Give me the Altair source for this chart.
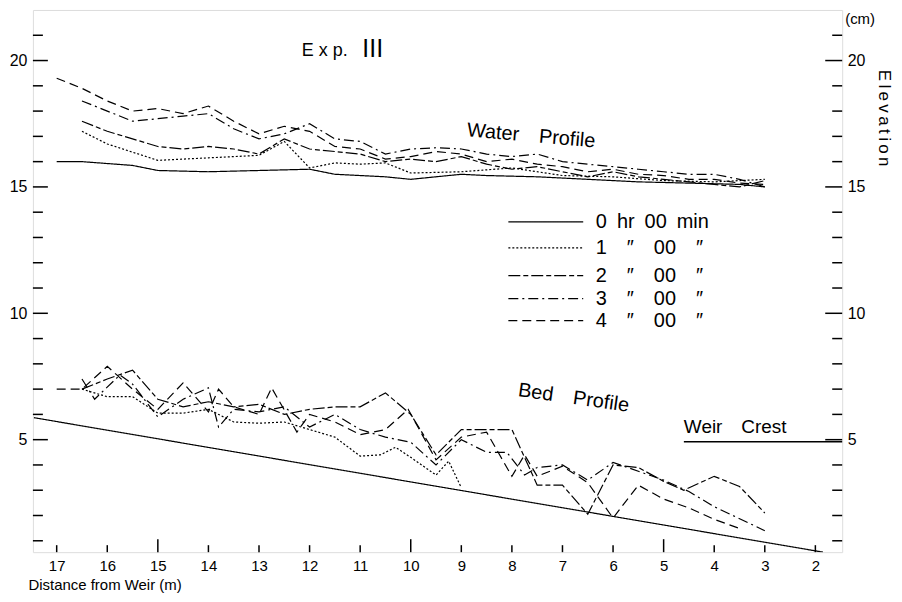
import altair as alt
import pandas as pd

# ---------------- data (x = distance from weir in m, y = elevation in cm) ----------------
SP = "\u2003"  # wide space (SVG collapses ordinary repeated spaces)
EN = "\u2002"
series_names = ["0 hr", "1 hr", "2 hr", "3 hr", "4 hr"]
legend_labels = ["0" + EN + "hr" + EN + "00" + EN + "min",
                 "1" + SP + "\u2033" + SP + "00" + SP + "\u2033",
                 "2" + SP + "\u2033" + SP + "00" + SP + "\u2033",
                 "3" + SP + "\u2033" + SP + "00" + SP + "\u2033",
                 "4" + SP + "\u2033" + SP + "00" + SP + "\u2033"]

water0_x = [17, 16.5, 15.5, 15, 14, 13, 12, 11.5, 10.5, 10, 9, 8.5, 7.5, 6.5, 5.5, 4.5, 3.5, 3]
water0_y = [16.0, 16.0, 15.85, 15.65, 15.6, 15.65, 15.7, 15.5, 15.4, 15.3, 15.5, 15.45, 15.4, 15.3, 15.2, 15.15, 15.1, 15.0]

water1_x = [16.5, 16, 15, 14, 13, 12.5, 12, 11.5, 11, 10.5, 10, 9, 8, 7, 6, 5, 4, 3]
water1_y = [17.2, 16.7, 16.05, 16.15, 16.25, 16.8, 15.75, 15.95, 15.9, 15.95, 15.55, 15.6, 15.75, 15.45, 15.4, 15.25, 15.2, 15.3]

water2_x = [16.5, 16, 15.5, 15, 14.5, 14, 13.5, 13, 12.5, 12, 11.5, 11, 10.5, 10, 9.5, 9, 8.5, 8, 7.5, 7, 6.5, 6, 5.5, 5, 4.5, 4, 3.5, 3]
water2_y = [17.6, 17.2, 16.9, 16.6, 16.5, 16.6, 16.5, 16.3, 16.9, 16.5, 16.4, 16.3, 16.0, 16.1, 16.0, 16.2, 15.9, 15.7, 15.8, 15.6, 15.4, 15.6, 15.4, 15.3, 15.2, 15.1, 15.0, 15.25]

water3_x = [16.5, 16, 15.5, 15, 14.5, 14, 13.5, 13, 12.5, 12, 11.5, 11, 10.5, 10, 9.5, 9, 8.5, 8, 7.5, 7, 6.5, 6, 5.5, 5, 4.5, 4, 3.5, 3]
water3_y = [18.4, 18.0, 17.6, 17.7, 17.8, 17.9, 17.3, 16.9, 17.1, 17.5, 16.9, 16.8, 16.3, 16.5, 16.55, 16.5, 16.3, 16.2, 16.3, 16.0, 15.9, 15.8, 15.7, 15.6, 15.5, 15.5, 15.3, 15.0]

water4_x = [17, 16.5, 16, 15.5, 15, 14.5, 14, 13.5, 13, 12.5, 12, 11.5, 11, 10.5, 10, 9.5, 9, 8.5, 8, 7.5, 7, 6.5, 6, 5.5, 5, 4.5, 4, 3.5, 3]
water4_y = [19.3, 18.9, 18.4, 18.0, 18.1, 17.9, 18.2, 17.6, 17.1, 17.4, 17.2, 16.6, 16.5, 16.1, 16.2, 16.4, 16.3, 16.0, 16.1, 15.9, 15.8, 15.6, 15.7, 15.5, 15.45, 15.3, 15.3, 15.15, 15.1]

bed0_x = [17.45, 1.85]
bed0_y = [5.87, 0.55]

bed1_x = [16.5, 16, 15.5, 15, 14.5, 14, 13.5, 13, 12.5, 12, 11.5, 11, 10.6, 10.3, 10, 9.5, 9.25, 9]
bed1_y = [7.0, 6.7, 6.7, 6.05, 6.05, 6.2, 5.7, 5.65, 5.7, 5.4, 5.1, 4.35, 4.4, 4.7, 4.3, 3.6, 4.15, 3.1]

bed2_x = [16.5, 16, 15.5, 15, 14.5, 14, 13.5, 13, 12.5, 12, 11.5, 11, 10.5, 10, 9.5, 9, 8.5, 8, 7.5, 7, 6.5, 6, 5.5, 5, 4.6, 4, 3.5, 3]
bed2_y = [7.0, 7.4, 7.75, 6.6, 6.3, 6.5, 6.3, 6.4, 6.0, 6.2, 6.3, 6.3, 6.85, 6.0, 4.4, 5.4, 5.4, 5.4, 3.2, 3.2, 2.05, 4.0, 3.9, 3.35, 3.0, 3.55, 3.15, 2.1]

bed3_x = [16.5, 16.25, 15.75, 15.5, 15, 14.5, 14, 13.8, 13.5, 13, 12.5, 12, 11.5, 11, 10.5, 10, 9.5, 9, 8.5, 8.1, 7.75, 7.5, 7, 6.5, 6, 5.5, 5, 4.5, 4, 3]
bed3_y = [7.4, 6.6, 7.56, 7.2, 5.9, 6.6, 7.05, 5.5, 6.2, 6.1, 6.3, 5.5, 6.0, 5.4, 5.1, 4.9, 4.0, 5.0, 4.5, 4.5, 3.6, 3.9, 4.0, 3.4, 4.1, 3.75, 3.4, 2.95, 2.35, 1.4]

bed4_x = [17, 16.5, 16, 15.5, 15, 14.5, 14, 13.8, 13.5, 13, 12.75, 12.25, 12, 11.5, 11, 10.5, 10.05, 9.5, 9, 8.5, 8, 7.75, 7.5, 7, 6.5, 6, 5.5, 5, 4.5, 4, 3.45]
bed4_y = [7.0, 7.0, 7.9, 7.0, 6.2, 7.25, 6.1, 7.0, 6.3, 6.0, 7.05, 5.3, 6.0, 5.7, 5.2, 5.4, 6.2, 4.2, 5.1, 5.3, 3.55, 4.4, 3.55, 3.95, 3.3, 1.9, 3.2, 2.65, 2.3, 1.85, 1.45]

weir_x = [4.6, 1.47]
weir_y = [4.92, 4.92]

x_ticks = list(range(2, 18))
y_ticks = list(range(1, 22))

# ---------------- layout / style ----------------
W, H = 812, 544
XDOM = [1.47, 17.47]
YDOM = [0.55, 22.0]
FONT = "Liberation Sans"
dashes = [[1, 0], [2, 2], [12, 3, 5, 3], [10, 4, 2, 4], [9, 5]]

xs = alt.Scale(domain=XDOM, reverse=True, nice=False, zero=False)
ys = alt.Scale(domain=YDOM, nice=False, zero=False)
dash_scale = alt.Scale(domain=series_names, range=dashes)

rows = []
groups = [("water", water0_x, water0_y, 0), ("water", water1_x, water1_y, 1),
          ("water", water2_x, water2_y, 2), ("water", water3_x, water3_y, 3),
          ("water", water4_x, water4_y, 4), ("bed", bed0_x, bed0_y, 0),
          ("bed", bed1_x, bed1_y, 1), ("bed", bed2_x, bed2_y, 2),
          ("bed", bed3_x, bed3_y, 3), ("bed", bed4_x, bed4_y, 4)]
for prof, gx, gy, k in groups:
    for i, (a, b) in enumerate(zip(gx, gy)):
        rows.append({"x": a, "y": b, "series": series_names[k], "key": f"{prof}{k}", "i": i})
df = pd.DataFrame(rows)

x_axis = alt.Axis(values=x_ticks, format="d", ticks=False, domain=False, grid=False,
                  labelFont=FONT, labelFontSize=15, labelColor="black", labelPadding=6,
                  labelFlush=False, labelOverlap=False,
                  title="Distance from Weir (m)", titleFont=FONT, titleFontSize=15,
                  titleFontWeight="normal", titleColor="black", titleX=-5, titleY=25,
                  titleAlign="left", titleAnchor="start", titleBaseline="top")
y_axis_left = alt.Axis(values=[5, 10, 15, 20], ticks=False, domain=False, grid=False,
                       labelFont=FONT, labelFontSize=16, labelColor="black", labelPadding=6,
                       labelFlush=False, title=None)
y_axis_right = alt.Axis(orient="right", values=[5, 10, 15, 20], ticks=False, domain=False,
                        grid=False, labelFont=FONT, labelFontSize=16, labelColor="black",
                        labelPadding=5, labelFlush=False,
                        title="E\u2009l\u2009e\u2009v\u2009a\u2009t\u2009i\u2009o\u2009n",
                        titleFont=FONT, titleFontSize=17,
                        titleFontWeight="normal", titleColor="black", titleAngle=90,
                        titleX=41, titleY=108, titleAlign="center", titleBaseline="middle")

lines = alt.Chart(df).mark_line(color="black", strokeWidth=1.2, clip=True).encode(
    x=alt.X("x:Q", scale=xs, axis=x_axis),
    y=alt.Y("y:Q", scale=ys, axis=y_axis_left),
    strokeDash=alt.StrokeDash("series:N", scale=dash_scale, legend=None),
    detail="key:N",
    order="i:Q",
)

weir = alt.Chart(pd.DataFrame({"x": weir_x, "y": weir_y})).mark_line(
    color="black", strokeWidth=1.6).encode(
    x=alt.X("x:Q", scale=xs, axis=None),
    y=alt.Y("y:Q", scale=ys, axis=y_axis_right),
)

# legend (drawn by hand, positions in data units)
leg_x1, leg_x2, leg_tx = 8.07, 6.59, 6.34
leg_rows_y = [13.62, 12.59, 11.49, 10.58, 9.71]
leg_df = pd.DataFrame({"series": series_names, "label": legend_labels, "y": leg_rows_y,
                       "x1": [leg_x1] * 5, "x2": [leg_x2] * 5, "tx": [leg_tx] * 5})
leg_lines = alt.Chart(leg_df).mark_rule(color="black", strokeWidth=1.2).encode(
    x=alt.X("x1:Q", scale=xs, axis=None), x2="x2:Q",
    y=alt.Y("y:Q", scale=ys, axis=None),
    strokeDash=alt.StrokeDash("series:N", scale=dash_scale, legend=None),
)
leg_text = alt.Chart(leg_df).mark_text(align="left", baseline="middle", font=FONT,
                                       fontSize=20, color="black").encode(
    x=alt.X("tx:Q", scale=xs, axis=None), y=alt.Y("y:Q", scale=ys, axis=None),
    text="label:N")

# annotations
ann_rows = [
    (11.70, 20.37, "E x p.", 0, "center", FONT, 18),
    (10.75, 20.40, "\u2162", 0, "center", "Noto Sans CJK JP", 24),
    (7.62, 17.02, "Water" + SP + "Profile", 5, "center", FONT, 20),
    (6.78, 6.65, "Bed" + SP + "Profile", 8, "center", FONT, 20),
    (4.6, 5.5, "Weir" + SP + "Crest", 0, "left", FONT, 19),
]
ann_parts = []
for ax_, ay_, txt, ang, al, fnt, fs in ann_rows:
    ann_parts.append(alt.Chart(pd.DataFrame({"x": [ax_], "y": [ay_], "t": [txt]})).mark_text(
        align=al, baseline="middle", font=fnt, fontSize=fs, color="black",
        angle=ang).encode(
        x=alt.X("x:Q", scale=xs, axis=None), y=alt.Y("y:Q", scale=ys, axis=None),
        text="t:N"))

# inward ticks
maj_y = [v for v in y_ticks if v % 5 == 0]
min_y = [v for v in y_ticks if v % 5 != 0]
maj_x = [v for v in x_ticks if v % 5 == 0]
min_x = [v for v in x_ticks if v % 5 != 0]


def yticks(vals, x0, x1):
    return alt.Chart(pd.DataFrame({"v": vals})).mark_rule(color="black", strokeWidth=1.5).encode(
        y=alt.Y("v:Q", scale=ys, axis=None), x=alt.value(x0), x2=alt.value(x1))


def xticks(vals, y0, y1):
    return alt.Chart(pd.DataFrame({"v": vals})).mark_rule(color="black", strokeWidth=1.5).encode(
        x=alt.X("v:Q", scale=xs, axis=None), y=alt.value(y0), y2=alt.value(y1))


tick_layers = [yticks(maj_y, 0, 15), yticks(min_y, 0, 10),
               yticks(maj_y, W, W - 17), yticks(min_y, W, W - 10),
               xticks(maj_x, H, H - 13), xticks(min_x, H, H - 7)]

cm_text = alt.Chart(pd.DataFrame({"t": ["(cm)"]})).mark_text(
    align="left", baseline="middle", font=FONT, fontSize=15, color="black").encode(
    x=alt.value(W + 3), y=alt.value(9), text="t:N")

chart = alt.layer(lines, weir, leg_lines, leg_text, *ann_parts, *tick_layers, cm_text).resolve_axis(
    x="independent", y="independent").properties(
    width=W, height=H,
    autosize=alt.AutoSizeParams(type="none"),
    padding={"left": 25, "top": 1, "right": 52, "bottom": 41},
).configure_view(stroke="black", strokeWidth=2).configure(background="white")

chart.save("out.html", embed_options={"renderer": "svg", "actions": False})
